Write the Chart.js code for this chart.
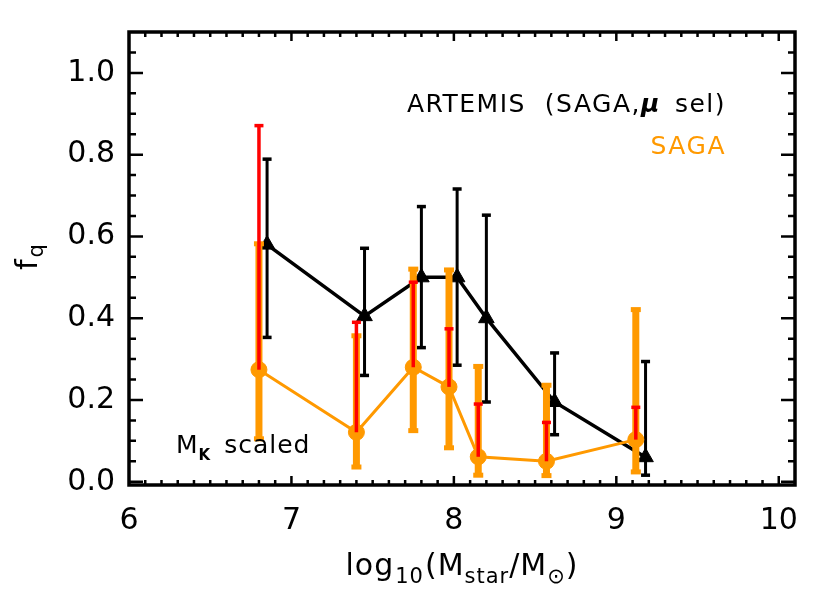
<!DOCTYPE html>
<html>
<head>
<meta charset="utf-8">
<script src="https://cdn.jsdelivr.net/npm/chart.js@4.4.1/dist/chart.umd.min.js"></script>
<style>
  html, body { margin: 0; padding: 0; background: #fff; }
  #wrap { width: 830px; height: 594px; }
</style>
</head>
<body>
<div id="wrap"><canvas id="chartFq"></canvas></div>
<script>
// ARTEMIS (SAGA, mu sel) - black triangles
var artX  = [6.85, 7.45, 7.80, 8.02, 8.20, 8.62, 9.18];
var artY  = [0.58, 0.405, 0.50, 0.50, 0.40, 0.195, 0.06];
var artLo = [0.353, 0.26, 0.328, 0.285, 0.195, 0.115, 0.016];
var artHi = [0.789, 0.571, 0.673, 0.716, 0.652, 0.315, 0.294];

// SAGA - orange circles, orange + red error bars
var sagaX     = [6.80, 7.40, 7.75, 7.97, 8.15, 8.57, 9.12];
var sagaY     = [0.274, 0.121, 0.28, 0.232, 0.061, 0.05, 0.103];
var sagaLo    = [0.105, 0.036, 0.125, 0.083, 0.016, 0.015, 0.024];
var sagaHi    = [0.582, 0.357, 0.52, 0.518, 0.282, 0.236, 0.421];
var sagaRedHi = [0.871, 0.39, 0.488, 0.374, 0.19, 0.145, 0.182];

var xTicks = [6, 7, 8, 9, 10];
var yTicks = [0.0, 0.2, 0.4, 0.6, 0.8, 1.0];

var ORANGE = '#ff9900';
var RED = '#ff0000';
var FONT = '"DejaVu Sans", sans-serif';

function pts(xs, ys) {
  return xs.map(function (x, i) { return { x: x, y: ys[i] }; });
}

function errBars(chart, xs, lo, hi, color, barW, capW, capH, lowCap) {
  var ctx = chart.ctx, sx = chart.scales.x, sy = chart.scales.y;
  ctx.save();
  ctx.fillStyle = color;
  for (var i = 0; i < xs.length; i++) {
    var px = sx.getPixelForValue(xs[i]);
    var top = sy.getPixelForValue(hi[i]);
    var bot = sy.getPixelForValue(lo[i]);
    ctx.fillRect(px - barW / 2, top, barW, bot - top);
    ctx.fillRect(px - capW / 2, top - capH / 2, capW, capH);
    if (lowCap) ctx.fillRect(px - capW / 2, bot - capH / 2, capW, capH);
  }
  ctx.restore();
}

// text pieces with baseline offsets, drawn left to right
function drawRuns(ctx, runs, x, y) {
  runs.forEach(function (r) {
    ctx.font = r.font;
    ctx.fillText(r.t, x, y + (r.dy || 0));
    x += ctx.measureText(r.t).width + (r.gap || 0);
  });
}
function runsWidth(ctx, runs) {
  var w = 0;
  runs.forEach(function (r) { ctx.font = r.font; w += ctx.measureText(r.t).width + (r.gap || 0); });
  return w;
}

var errPlugin = {
  id: 'errPlugin',
  beforeDatasetDraw: function (chart, args) {
    if (args.index === 1) errBars(chart, artX, artLo, artHi, '#000', 3, 9, 3.5, true);
    if (args.index === 0) errBars(chart, sagaX, sagaLo, sagaHi, ORANGE, 7, 10, 5, true);
  },
  afterDatasetDraw: function (chart, args) {
    if (args.index === 0) errBars(chart, sagaX, sagaY, sagaRedHi, RED, 3.5, 9, 3.5, false);
  }
};

var framePlugin = {
  id: 'framePlugin',
  afterDraw: function (chart) {
    var ctx = chart.ctx, a = chart.chartArea, sx = chart.scales.x, sy = chart.scales.y;
    ctx.save();
    ctx.strokeStyle = '#000';
    ctx.lineWidth = 3.5;
    ctx.strokeRect(a.left, a.top, a.right - a.left, a.bottom - a.top);

    ctx.lineWidth = 2.5;
    ctx.beginPath();
    // x ticks, minor every 0.1
    for (var k = 60; k <= 101; k++) {
      var v = k / 10;
      var px = sx.getPixelForValue(v);
      if (px < a.left + 1 || px > a.right - 1) continue;
      var len = (k % 10 === 0) ? 9 : 5;
      ctx.moveTo(px, a.bottom); ctx.lineTo(px, a.bottom - len);
      ctx.moveTo(px, a.top); ctx.lineTo(px, a.top + len);
    }
    // y ticks, minor every 0.05
    for (var j = 0; j <= 22; j++) {
      var py = sy.getPixelForValue(j * 0.05);
      if (py < a.top + 1) continue;
      var ylen = (j % 4 === 0) ? 14 : 7;
      ctx.moveTo(a.left, py); ctx.lineTo(a.left + ylen, py);
      ctx.moveTo(a.right, py); ctx.lineTo(a.right - ylen, py);
    }
    ctx.stroke();

    // axis titles
    ctx.fillStyle = '#000';
    ctx.textBaseline = 'alphabetic';
    ctx.textAlign = 'left';
    ctx.letterSpacing = '1px';
    var big = '30px ' + FONT, sub = '21px ' + FONT;
    var xt = [
      { t: 'log', font: big, gap: 1 },
      { t: '10', font: sub, dy: 8, gap: 1 },
      { t: '(M', font: big },
      { t: 'star', font: sub, dy: 8 },
      { t: '/M', font: big },
      { t: '\u2299', font: sub, dy: 8 },
      { t: ')', font: big }
    ];
    var w = runsWidth(ctx, xt);
    drawRuns(ctx, xt, (a.left + a.right) / 2 - w / 2, 575);

    ctx.save();
    ctx.translate(37, 270);
    ctx.rotate(-Math.PI / 2);
    drawRuns(ctx, [{ t: 'f', font: big, gap: 1 }, { t: 'q', font: sub, dy: 6 }], 0, 0);
    ctx.restore();

    // labels
    ctx.textAlign = 'right';
    ctx.letterSpacing = '1.5px';
    ctx.font = '25px ' + FONT;
    ctx.fillText(')', 726, 112);
    var rw = ctx.measureText(')').width;
    ctx.fillText('sel', 726 - rw, 112);
    var sw = ctx.measureText('sel').width + 14;
    ctx.font = 'bold italic 25px ' + FONT;
    ctx.fillText('\u03bc', 726 - rw - sw, 112);
    var mw = ctx.measureText('\u03bc').width;
    ctx.font = '25px ' + FONT;
    ctx.fillText('ARTEMIS  (SAGA,', 726 - rw - sw - mw, 112);
    ctx.fillStyle = ORANGE;
    ctx.fillText('SAGA', 726, 154);

    ctx.fillStyle = '#000';
    ctx.textAlign = 'left';
    ctx.letterSpacing = '1px';
    drawRuns(ctx, [
      { t: 'M', font: '25px ' + FONT },
      { t: 'K', font: 'bold 15px ' + FONT, dy: 7, gap: 13 },
      { t: 'scaled', font: '25px ' + FONT }
    ], 176, 453);
    ctx.restore();
  }
};

var canvas = document.getElementById('chartFq');
new Chart(canvas, {
  type: 'scatter',
  data: {
    datasets: [
      {
        label: 'SAGA',
        data: pts(sagaX, sagaY),
        showLine: true,
        borderColor: ORANGE,
        borderWidth: 3,
        pointStyle: 'circle',
        pointRadius: 8,
        pointBorderWidth: 1,
        pointBackgroundColor: ORANGE,
        pointBorderColor: ORANGE
      },
      {
        label: 'ARTEMIS (SAGA, mu sel)',
        data: pts(artX, artY),
        showLine: true,
        borderColor: '#000',
        borderWidth: 3.5,
        pointStyle: 'triangle',
        pointRadius: 9,
        pointBorderWidth: 1,
        pointBackgroundColor: '#000',
        pointBorderColor: '#000'
      }
    ]
  },
  options: {
    responsive: true,
    maintainAspectRatio: false,
    animation: false,
    events: [],
    layout: { padding: { left: 0, right: 35, top: 29, bottom: 0 } },
    plugins: {
      legend: { display: false },
      tooltip: { enabled: false }
    },
    scales: {
      x: {
        type: 'linear',
        min: 6,
        max: 10.1,
        grid: { display: false, drawTicks: false },
        border: { display: false },
        afterBuildTicks: function (s) { s.ticks = xTicks.map(function (v) { return { value: v }; }); },
        afterFit: function (s) { s.height = 109; },
        ticks: {
          padding: 18,
          color: '#000',
          font: { family: FONT, size: 30 },
          maxRotation: 0,
          callback: function (v) { return String(v); }
        }
      },
      y: {
        type: 'linear',
        min: -0.008,
        max: 1.1,
        grid: { display: false, drawTicks: false },
        border: { display: false },
        afterBuildTicks: function (s) { s.ticks = yTicks.map(function (v) { return { value: v }; }); },
        afterFit: function (s) { s.width = 129; },
        ticks: {
          padding: 14,
          color: '#000',
          font: { family: FONT, size: 30 },
          callback: function (v) { return Number(v).toFixed(1); }
        }
      }
    }
  },
  plugins: [errPlugin, framePlugin]
});
</script>
</body>
</html>
